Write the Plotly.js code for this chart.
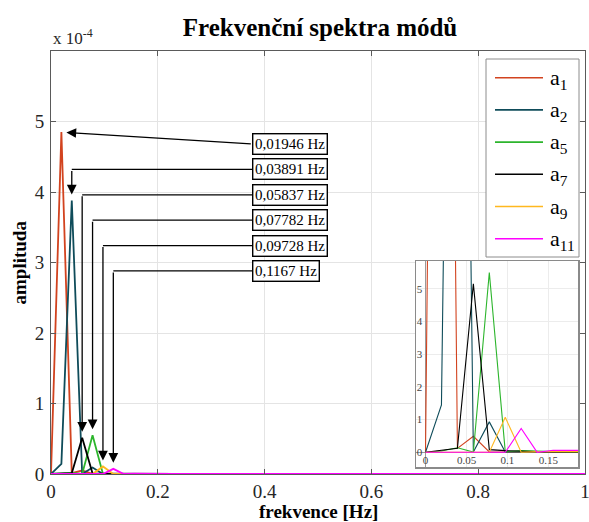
<!DOCTYPE html>
<html><head><meta charset="utf-8">
<script src="https://cdn.plot.ly/plotly-3.0.1.min.js"></script>
<style>html,body{margin:0;padding:0;background:#fff}#chart{width:589px;height:522px}</style>
</head><body><div id="chart"></div>
<script>
// frequency bins [Hz]
const freq = [0, 0.01946, 0.03891, 0.05837, 0.07782, 0.09728, 0.1167, 0.1362, 0.1556, 0.1751, 0.1946, 0.2140, 0.2335, 1.0];
// amplitudes in units of 1e-4
const a1  = [0, 4.85, 0.012, 0.049, 0.001, 0.002, 0.001, 0.001, 0.001, 0.0005, 0.0005, 0, 0, 0];
const a2  = [0, 0.145, 3.88, 0.001, 0.093, 0.001, 0.001, 0.001, 0.0005, 0.0005, 0, 0, 0, 0];
const a5  = [0, 0.004, 0.014, 0.001, 0.55, 0.002, 0.005, 0.003, 0.002, 0.001, 0.001, 0, 0, 0];
const a7  = [0, 0.005, 0.012, 0.515, 0.008, 0.005, 0.003, 0.002, 0.001, 0.001, 0, 0, 0, 0];
const a9  = [0, 0, 0.001, 0.002, 0.0, 0.107, 0.0, 0.002, 0.002, 0.001, 0, 0, 0, 0];
const a11 = [0, 0, 0, 0.001, 0.001, 0.0, 0.073, 0.0, 0.006, 0.005, 0.002, 0.001, 0, 0];

const seriesNames = ['a<sub>1</sub>', 'a<sub>2</sub>', 'a<sub>5</sub>', 'a<sub>7</sub>', 'a<sub>9</sub>', 'a<sub>11</sub>'];
const seriesData = [a1, a2, a5, a7, a9, a11];
const seriesColors = ['#D2431F', '#0F4C5A', '#2CB52C', '#000000', '#FFB81F', '#FF00FF'];

// peak labels, in order of increasing peak frequency
const peakLabels = ['0,01946 Hz', '0,03891 Hz', '0,05837 Hz', '0,07782 Hz', '0,09728 Hz', '0,1167 Hz'];
const labelY = [4.68, 4.32, 3.96, 3.60, 3.24, 2.88];   // label box centres (axis units)
const labelX = 0.377;                                 // label box left edge (axis units)

// main axis ticks
const xTicks = [0, 0.2, 0.4, 0.6, 0.8, 1];
const xTickText = ['0', '0.2', '0.4', '0.6', '0.8', '1'];
const yTicks = [0, 1, 2, 3, 4, 5];
const yTickText = ['0', '1', '2', '3', '4', '5'];
// inset ticks (inset y shown in units of 1e-5)
const x2Ticks = [0, 0.05, 0.1, 0.15];
const x2TickText = ['0', '0.05', '0.1', '0.15'];
const y2Ticks = [0, 0.1, 0.2, 0.3, 0.4, 0.5];
const y2TickText = ['0', '1', '2', '3', '4', '5'];

const W = 589, H = 522;
const M = {l: 51, r: 4, t: 51, b: 48};
const PW = W - M.l - M.r, PH = H - M.t - M.b;
const px = v => (v - M.l) / PW;      // pixel -> paper x
const py = v => (H - M.b - v) / PH;  // pixel -> paper y

const serif = 'Liberation Serif';

const traces = [];
seriesData.forEach((d, i) => {
  traces.push({x: freq, y: d, type: 'scatter', mode: 'lines', name: seriesNames[i],
    line: {color: seriesColors[i], width: 1.8}, showlegend: false, xaxis: 'x', yaxis: 'y', hoverinfo: 'skip'});
});
seriesData.forEach((d, i) => {
  traces.push({x: freq, y: d, type: 'scatter', mode: 'lines', name: seriesNames[i],
    line: {color: seriesColors[i], width: 1.1}, showlegend: false, xaxis: 'x2', yaxis: 'y2', hoverinfo: 'skip'});
});

const shapes = [];
const annotations = [];

// find peaks, sort by frequency
const peaks = seriesData.map(d => {
  let idx = 0;
  d.forEach((v, k) => { if (v > d[idx]) idx = k; });
  return {f: freq[idx], a: d[idx]};
}).sort((p, q) => p.f - q.f);

peaks.forEach((p, i) => {
  annotations.push({x: labelX, y: labelY[i], xref: 'x', yref: 'y', text: peakLabels[i], showarrow: false,
    xanchor: 'left', yanchor: 'middle', bgcolor: '#fff', bordercolor: '#000', borderwidth: 1.4, borderpad: 1.5,
    font: {family: serif, size: 15, color: '#000'}});
  if (i === 0) {
    annotations.push({x: p.f, y: p.a, xref: 'x', yref: 'y', ax: labelX, ay: labelY[i], axref: 'x', ayref: 'y',
      text: '', showarrow: true, arrowhead: 2, arrowsize: 1.5, arrowwidth: 1.3, arrowcolor: '#000', standoff: 5});
  } else {
    shapes.push({type: 'line', xref: 'x', yref: 'y', x0: p.f, x1: labelX, y0: labelY[i], y1: labelY[i],
      line: {color: '#000', width: 1.3}, layer: 'above'});
    annotations.push({x: p.f, y: p.a, xref: 'x', yref: 'y', ax: p.f, ay: labelY[i], axref: 'x', ayref: 'y',
      text: '', showarrow: true, arrowhead: 2, arrowsize: 1.5, arrowwidth: 1.3, arrowcolor: '#000', standoff: 6});
  }
});

// exponent label
annotations.push({x: px(51), y: py(50), xref: 'paper', yref: 'paper', xanchor: 'left', yanchor: 'bottom',
  text: 'x 10<sup>-4</sup>', showarrow: false, font: {family: serif, size: 17, color: '#262626'}});

// axis titles
annotations.push({x: px(318), y: py(512), xref: 'paper', yref: 'paper', xanchor: 'center', yanchor: 'middle',
  text: 'frekvence [Hz]', showarrow: false, font: {family: serif, size: 19, weight: 'bold', color: '#000'}});
annotations.push({x: px(19), y: py(262.5), xref: 'paper', yref: 'paper', xanchor: 'center', yanchor: 'middle',
  text: 'amplituda', textangle: -90, showarrow: false, font: {family: serif, size: 19, weight: 'bold', color: '#000'}});

// custom legend
shapes.push({type: 'rect', xref: 'paper', yref: 'paper', x0: px(486), x1: px(579), y0: py(59), y1: py(257),
  fillcolor: '#fff', line: {color: '#8c8c8c', width: 1}, layer: 'above'});
seriesNames.forEach((n, i) => {
  const yy = 77.7 + 32.2 * i;
  shapes.push({type: 'line', xref: 'paper', yref: 'paper', x0: px(495), x1: px(543), y0: py(yy), y1: py(yy),
    line: {color: seriesColors[i], width: 1.6}, layer: 'above'});
  annotations.push({x: px(548), y: py(yy + 1), xref: 'paper', yref: 'paper', xanchor: 'left', yanchor: 'middle',
    text: n, showarrow: false, font: {family: serif, size: 22, color: '#000'}});
});

const axBase = {showline: true, linecolor: '#5a5a5a', linewidth: 1, mirror: 'ticks', ticks: 'inside', ticklen: 5,
  tickcolor: '#5a5a5a', showgrid: true, gridcolor: '#e4e4e4', gridwidth: 1, zeroline: false, tickmode: 'array',
  ticklabeloverflow: 'allow', tickfont: {family: serif, size: 19, color: '#262626'}};

const layout = {
  width: W, height: H, margin: M, paper_bgcolor: '#fff', plot_bgcolor: '#fff', showlegend: false,
  title: {text: 'Frekvenční spektra módů', font: {family: serif, size: 25, weight: 'bold', color: '#000'},
    x: 320 / W, xref: 'container', xanchor: 'center', y: 1 - 27 / H, yref: 'container', yanchor: 'middle'},
  xaxis: Object.assign({}, axBase, {range: [0, 1], tickvals: xTicks, ticktext: xTickText, domain: [0, 1]}),
  yaxis: Object.assign({}, axBase, {range: [0, 6], tickvals: yTicks, ticktext: yTickText, domain: [0, 1],
    ticklabelstandoff: 2}),
  xaxis2: {domain: [px(416), px(578)], anchor: 'y2', range: [-0.0116, 0.186], tickmode: 'array', tickvals: x2Ticks,
    ticktext: x2TickText, ticklabelposition: 'inside', ticks: '', showline: true, mirror: true, linecolor: '#8a8a8a',
    linewidth: 1.5, showgrid: true, gridcolor: '#ececec', zeroline: true, zerolinecolor: '#9a9a9a', zerolinewidth: 1,
    tickfont: {family: serif, size: 11, color: '#444'}},
  yaxis2: {domain: [py(467), py(261)], anchor: 'x2', range: [-0.045, 0.585], tickmode: 'array', tickvals: y2Ticks,
    ticktext: y2TickText, ticklabelposition: 'inside', ticks: '', showline: true, mirror: true, linecolor: '#8a8a8a',
    linewidth: 1.5, showgrid: true, gridcolor: '#ececec', zeroline: true, zerolinecolor: '#9a9a9a', zerolinewidth: 1,
    tickfont: {family: serif, size: 11, color: '#444'}},
  shapes: shapes, annotations: annotations
};

Plotly.newPlot('chart', traces, layout, {displayModeBar: false, staticPlot: true});
</script></body></html>
